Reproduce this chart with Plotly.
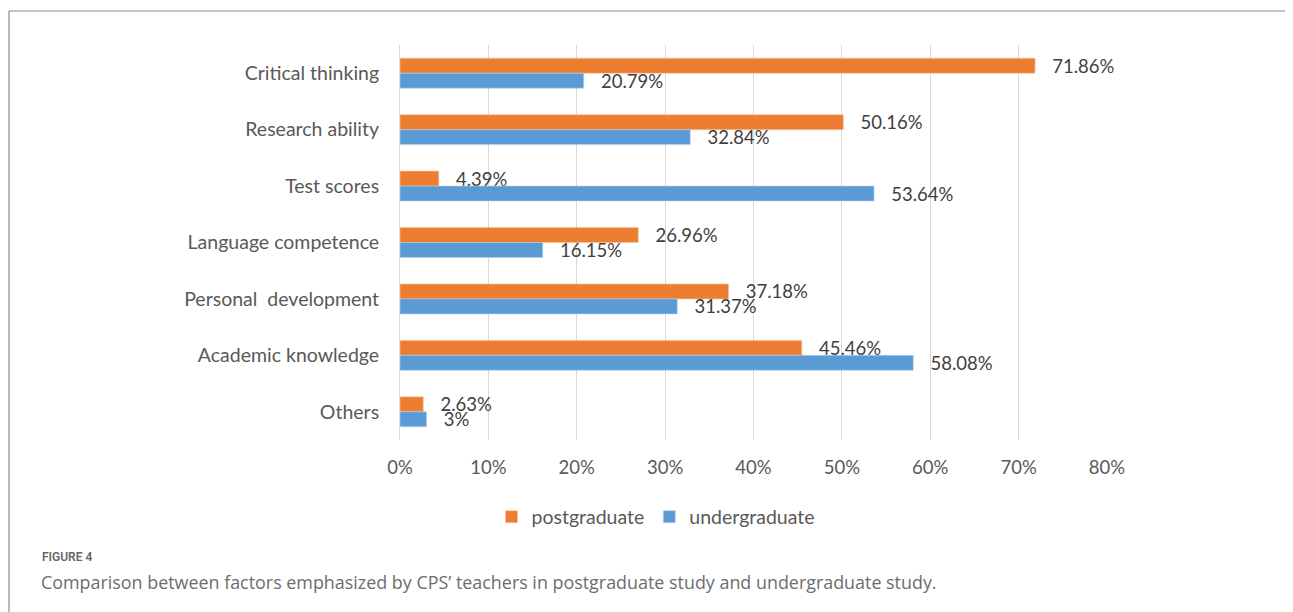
import plotly.graph_objects as go

categories = ["Critical thinking", "Research ability", "Test scores", "Language competence",
              "Personal  development", "Academic knowledge", "Others"]
postgraduate = [71.86, 50.16, 4.39, 26.96, 37.18, 45.46, 2.63]
undergraduate = [20.79, 32.84, 53.64, 16.15, 31.37, 58.08, 3]
x_ticks = [0, 10, 20, 30, 40, 50, 60, 70, 80]
x_tick_labels = ["0%", "10%", "20%", "30%", "40%", "50%", "60%", "70%", "80%"]

FONT = "Lato"
FS = 18.5
FS_TXT = 19.5
OFF = 8  # page body margin
W, H = 1293 - OFF, 612 - OFF
L, R, T, B = 400 - OFF, 1293 - 1107, 45 - OFF, 612 - 440
pw, ph = W - L - R, H - T - B


def px(x):
    return (x - OFF - L) / pw


def py(y):
    return (H - B - (y - OFF)) / ph


fig = go.Figure()
for name, vals, col, edge in [("postgraduate", postgraduate, "#ED7D31", "#f6c3a0"),
                              ("undergraduate", undergraduate, "#5B9BD5", "#b5d0ea")]:
    fig.add_trace(go.Bar(
        y=categories, x=vals, orientation="h", name=name,
        marker=dict(color=col, line=dict(color=edge, width=0.6)),
        texttemplate="\u00a0\u00a0\u00a0%{x}%", textposition="outside", constraintext="none",
        textfont=dict(family=FONT, size=FS, color="#404040"), cliponaxis=False,
    ))

fig.update_layout(
    width=W, height=H,
    margin=dict(l=L, r=R, t=T, b=B, autoexpand=False),
    paper_bgcolor="white", plot_bgcolor="white",
    barmode="group", bargap=0.47, bargroupgap=0,
    font=dict(family=FONT, color="#595959"),
    showlegend=True,
    legend=dict(orientation="h", x=px(656), y=py(517), xanchor="center", yanchor="middle",
                font=dict(family=FONT, size=FS_TXT, color="#595959"), traceorder="normal",
                itemwidth=30),
    xaxis=dict(range=[0, 80], tickvals=x_ticks, ticktext=x_tick_labels, showgrid=True,
               gridcolor="#d9d9d9", gridwidth=1, zeroline=False, showline=False,
               tickfont=dict(family=FONT, size=FS, color="#595959"),
               ticks="", ticklabelstandoff=14),
    yaxis=dict(autorange="reversed", showgrid=False, zeroline=False, showline=True,
               linecolor="#d9d9d9", linewidth=1,
               tickfont=dict(family=FONT, size=FS_TXT, color="#595959"),
               ticks="", ticklabelstandoff=16),
    shapes=[
        dict(type="line", xref="paper", yref="paper", x0=px(9), x1=px(1300), y0=py(11), y1=py(11),
             line=dict(color="#8c8c8c", width=1.2)),
        dict(type="line", xref="paper", yref="paper", x0=px(9), x1=px(9), y0=py(11), y1=py(620),
             line=dict(color="#8c8c8c", width=1.2)),
    ],
    annotations=[
        dict(text="FIGURE 4", xref="paper", yref="paper", x=px(40), y=py(557),
             xanchor="left", yanchor="middle", showarrow=False,
             font=dict(family="Roboto", size=12, weight=600, color="#666666")),
        dict(text="Comparison between factors emphasized by CPS\u2019 teachers in postgraduate study and undergraduate study.",
             xref="paper", yref="paper", x=px(39), y=py(582),
             xanchor="left", yanchor="middle", showarrow=False,
             font=dict(family="Open Sans", size=17.9, color="#6d6d6d")),
    ],
)

fig.write_html("out.html")
